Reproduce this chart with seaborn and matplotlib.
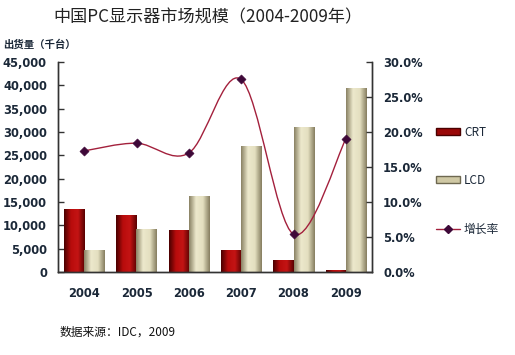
import numpy as np
import pandas as pd
import matplotlib
matplotlib.use("Agg")
import matplotlib.pyplot as plt
import seaborn as sns
from matplotlib.path import Path
from matplotlib.patches import PathPatch, Patch
from matplotlib.lines import Line2D
from matplotlib.colors import LinearSegmentedColormap
from matplotlib.ticker import FuncFormatter, MultipleLocator, FixedLocator

# data (thousand units / growth rate)
years = ['2004', '2005', '2006', '2007', '2008', '2009']
crt = [13500, 12200, 9000, 4700, 2500, 400]
lcd = [4700, 9200, 16300, 27100, 31100, 39400]
growth = [0.173, 0.184, 0.170, 0.275, 0.054, 0.190]

title = '中国PC显示器市场规模（2004-2009年）'
ylabel = '出货量（千台）'
source = '数据来源：IDC，2009'
series_names = ['CRT', 'LCD', '增长率']

df = pd.DataFrame({
    'year': years * 2,
    'type': ['CRT'] * len(years) + ['LCD'] * len(years),
    'value': crt + lcd,
})

sns.set_style('white')
plt.rcParams['font.family'] = ['DejaVu Sans', 'Noto Sans CJK SC']
cjk = ['Noto Sans CJK SC', 'DejaVu Sans']
txt = '#1b2838'

crt_col = '#9a0808'
lcd_col = '#cfc8a4'
line_col = '#a3203c'
mark_col = '#3e0838'

fig = plt.figure(figsize=(5.15, 3.55), dpi=100)
ax = fig.add_axes([58 / 515, 1 - 272 / 355, 314 / 515, 210 / 355])

sns.barplot(data=df, x='year', y='value', hue='type', palette=[crt_col, lcd_col],
            width=0.77, gap=0, ax=ax, legend=False, edgecolor='none', saturation=1)

# cylinder-like shading on the bars
cmaps = {
    'CRT': LinearSegmentedColormap.from_list('crt', ['#4a0000', '#b80c0c', '#c41414', '#5a0202']),
    'LCD': LinearSegmentedColormap.from_list('lcd', ['#8a8264', '#ece8cc', '#e4dfc0', '#867e60']),
}
grad = np.linspace(0, 1, 64).reshape(1, -1)
for p in list(ax.patches):
    fc = np.array(p.get_facecolor()[:3])
    key = 'CRT' if fc[0] - fc[2] > 0.3 else 'LCD'
    x0, y0, w, h = p.get_x(), p.get_y(), p.get_width(), p.get_height()
    if h <= 0:
        continue
    im = ax.imshow(grad, cmap=cmaps[key], extent=[x0, x0 + w, y0, y0 + h],
                   aspect='auto', zorder=p.get_zorder() + 0.1, interpolation='bilinear')
    im.set_clip_path(p)

ax.set_xlim(-0.5, 5.5)
ax.set_ylim(0, 45000)
ax.yaxis.set_major_locator(MultipleLocator(5000))
ax.yaxis.set_major_formatter(FuncFormatter(lambda v, _: f'{int(v):,}'))
ax.set_xlabel('')
ax.set_ylabel('')
ax.tick_params(axis='y', direction='in', length=4, width=1, color='#333333', pad=8,
               labelsize=8.3, labelcolor=txt)
ax.tick_params(axis='x', which='major', length=0, pad=11, labelsize=8.3, labelcolor=txt)
ax.xaxis.set_minor_locator(FixedLocator(np.arange(-0.5, 6, 1)))
ax.tick_params(axis='x', which='minor', direction='in', length=4, width=1, color='#333333')
for lab in ax.get_xticklabels() + ax.get_yticklabels():
    lab.set_fontweight('bold')

# growth rate on a secondary axis
ax2 = ax.twinx()
xs = np.arange(len(years))
pts = np.column_stack([xs, growth])
ext = np.vstack([pts[0], pts, pts[-1]])
verts = [tuple(pts[0])]
codes = [Path.MOVETO]
for i in range(len(pts) - 1):
    p0, p1, p2, p3 = ext[i], ext[i + 1], ext[i + 2], ext[i + 3]
    c1 = p1 + (p2 - p0) / 6
    c2 = p2 - (p3 - p1) / 6
    verts += [tuple(c1), tuple(c2), tuple(p2)]
    codes += [Path.CURVE4] * 3
ax2.add_patch(PathPatch(Path(verts, codes), facecolor='none', edgecolor=line_col, lw=1, zorder=3))
sns.scatterplot(x=xs, y=growth, marker='D', s=22, color=mark_col, edgecolor=mark_col,
                ax=ax2, zorder=4, legend=False)
ax2.set_xlim(-0.5, 5.5)
ax2.set_ylim(0, 0.30)
ax2.yaxis.set_major_locator(MultipleLocator(0.05))
ax2.yaxis.set_major_formatter(FuncFormatter(lambda v, _: f'{v * 100:.1f}%'))
ax2.tick_params(axis='y', direction='in', length=4, width=1, color='#333333', pad=8,
                labelsize=8.3, labelcolor=txt)
for lab in ax2.get_yticklabels():
    lab.set_fontweight('bold')

for a in (ax, ax2):
    a.spines['top'].set_visible(False)
    for s in ('left', 'right', 'bottom'):
        a.spines[s].set_color('#333333')
        a.spines[s].set_linewidth(1)

handles = [
    Patch(facecolor=crt_col, edgecolor='#4a0000'),
    Patch(facecolor=lcd_col, edgecolor='#6e6850'),
    Line2D([0], [0], color=line_col, lw=1, marker='D', markersize=4,
           markerfacecolor=mark_col, markeredgecolor=mark_col),
]
fig.legend(handles, series_names, loc='upper left', bbox_to_anchor=(425 / 515, 1 - 115 / 355),
           frameon=False, handlelength=2.1, handleheight=0.55, handletextpad=0.3,
           labelspacing=3.0, prop={'family': cjk, 'size': 8.5}, labelcolor=txt)

fig.text(53 / 515, 1 - 17 / 355, title, fontsize=12.3, family=cjk, color='#222222', va='center')
fig.text(3 / 515, 1 - 45 / 355, ylabel, fontsize=7.5, family=cjk, fontweight='bold', color=txt, va='center')
fig.text(60 / 515, 1 - 332 / 355, source, fontsize=8.5, family=cjk, color='#111111', va='center')

fig.savefig('out.png', dpi=100)
